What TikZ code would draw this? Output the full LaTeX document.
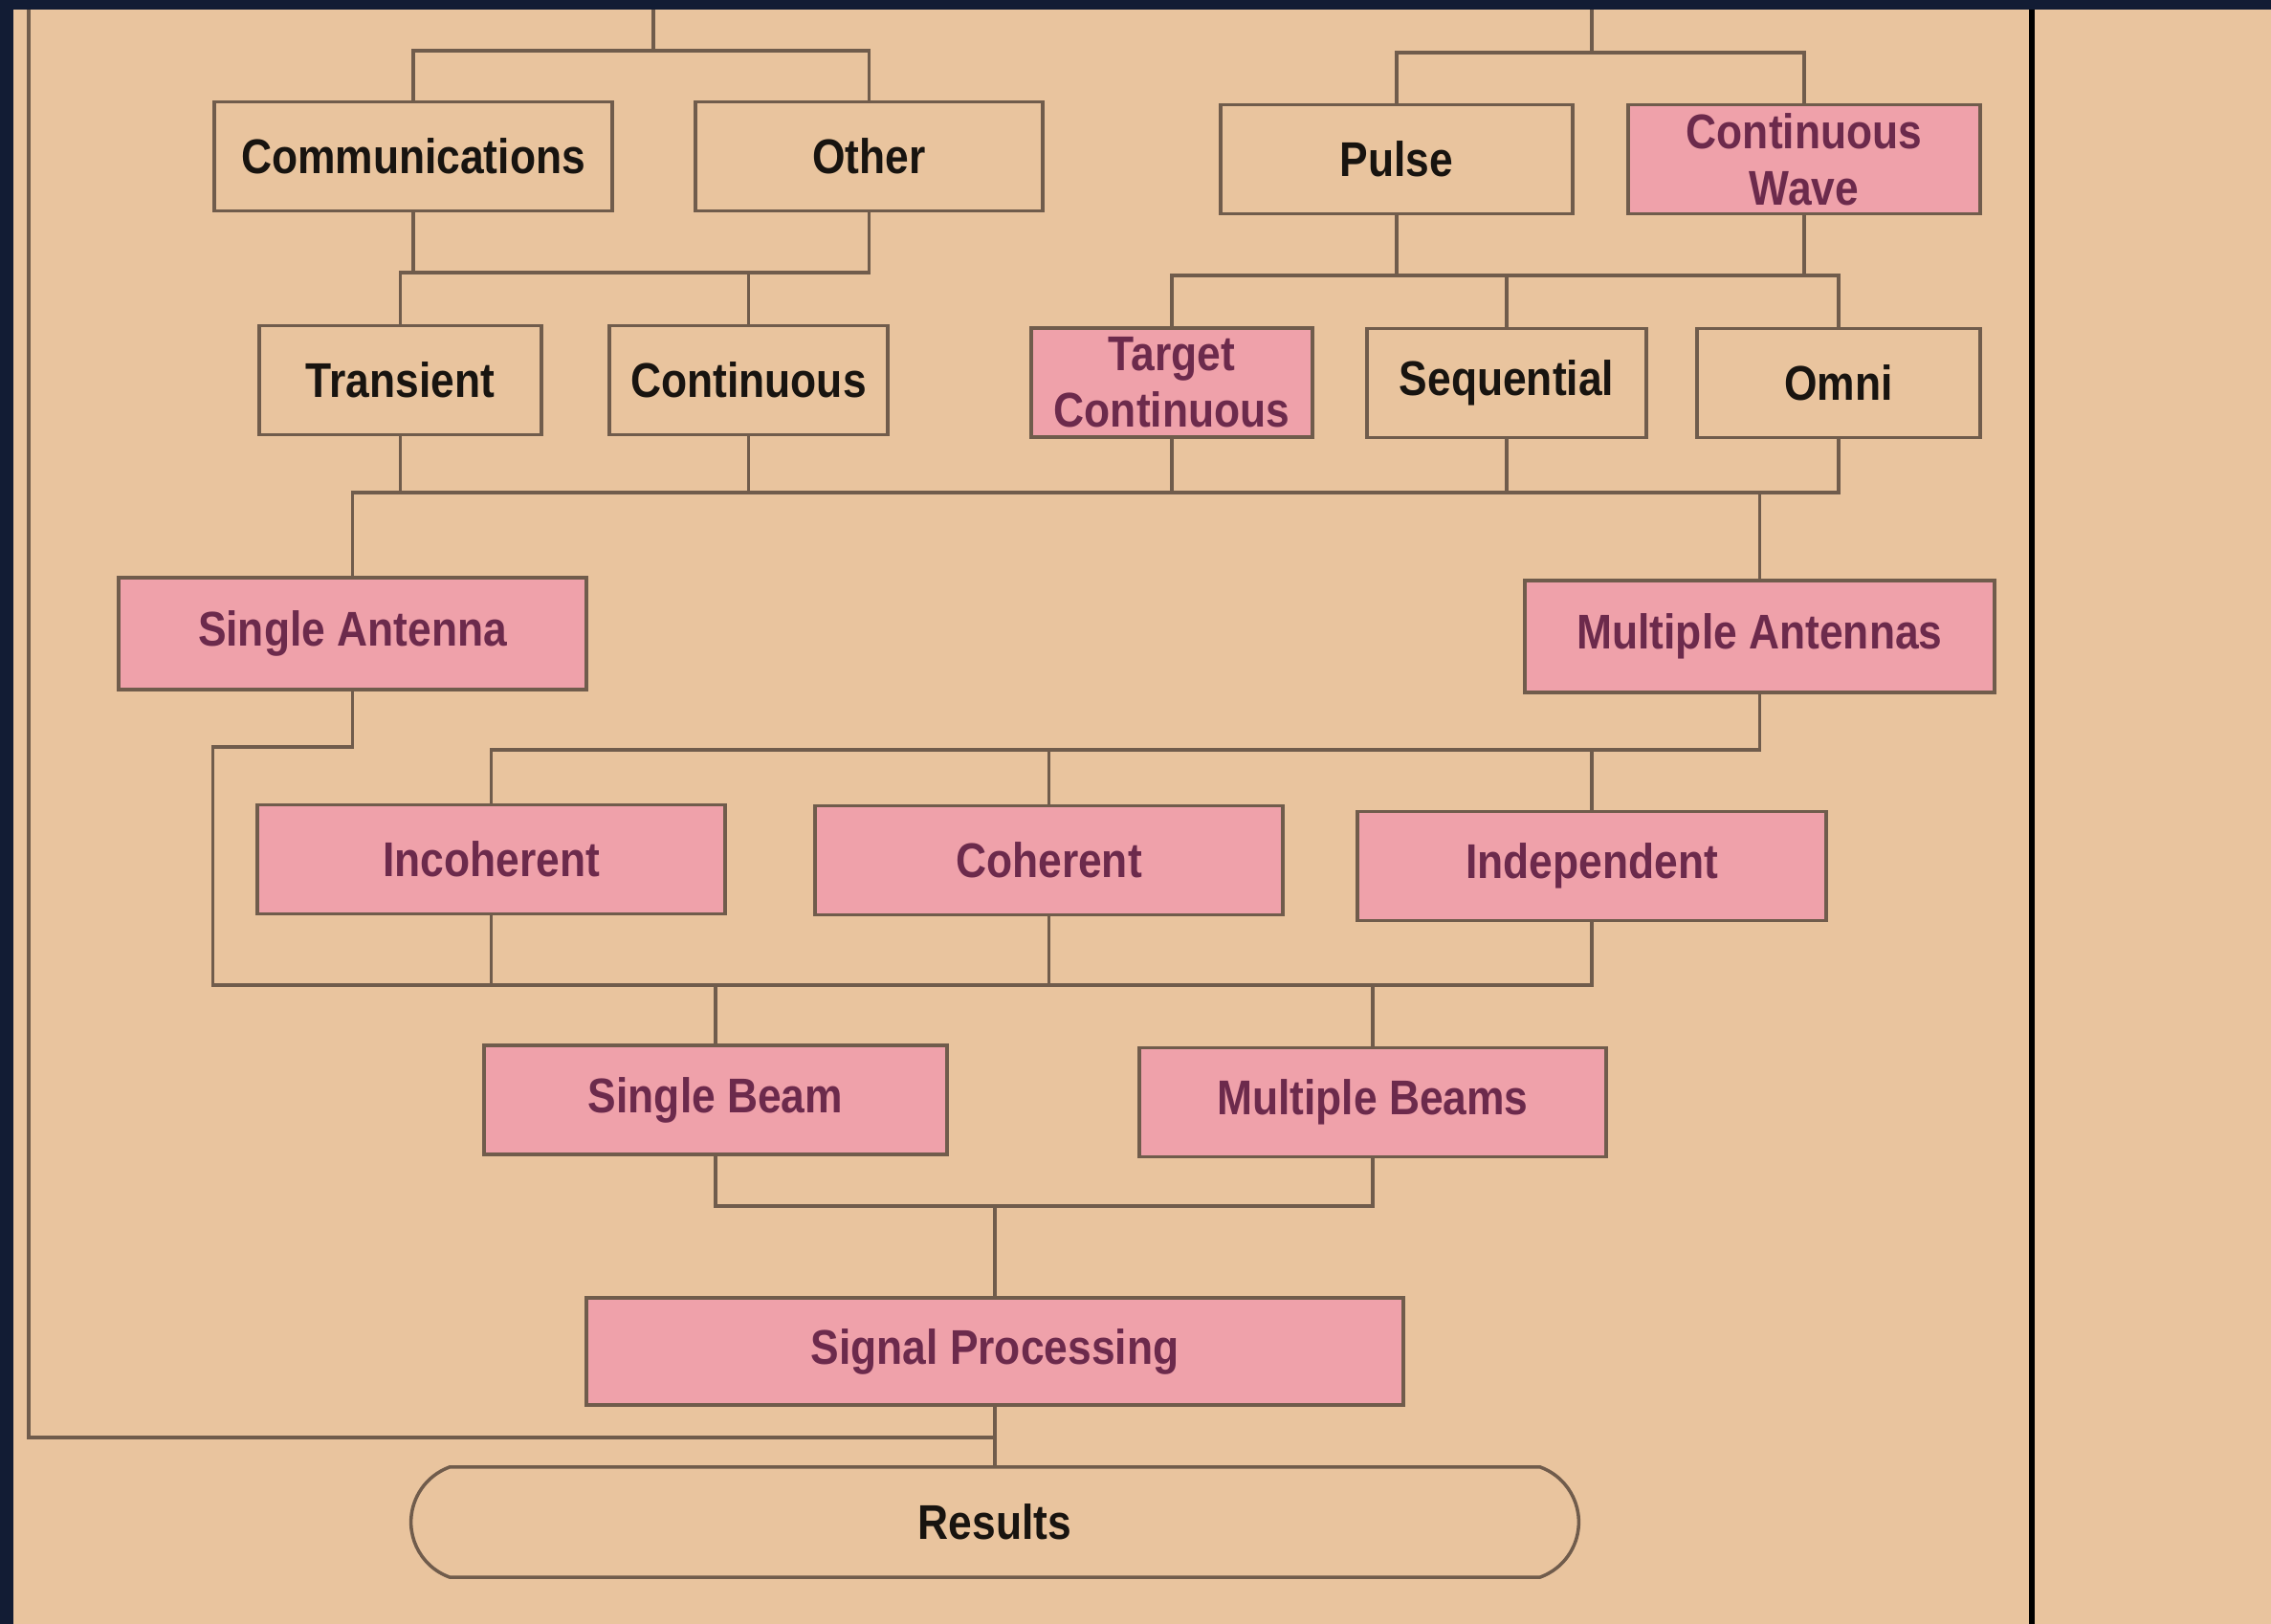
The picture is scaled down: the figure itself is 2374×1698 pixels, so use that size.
\documentclass[tikz,border=0pt]{standalone}
\usepackage{fontspec}
\usetikzlibrary{shapes.misc}
\newfontfamily\chartfont{Liberation Sans}[FakeStretch=0.87]
\definecolor{navy}{RGB}{18,28,52}
\definecolor{peach}{RGB}{233,196,158}
\definecolor{pinkfill}{RGB}{239,161,170}
\definecolor{boxline}{RGB}{112,92,76}
\definecolor{darktext}{RGB}{24,20,16}
\definecolor{pinktext}{RGB}{108,42,76}
\tikzset{
  plain/.style={draw=boxline, line width=1pt, fill=peach, minimum height=1.14cm,
    inner sep=0pt, align=center, text=darktext,
    font=\chartfont\bfseries\fontsize{14.5}{16.8}\selectfont},
  hot/.style={plain, fill=pinkfill, text=pinktext},
  bus/.style={draw=boxline, line width=0.9pt},
}
\begin{document}
\begin{tikzpicture}[x=0.01cm,y=-0.01cm]
  \useasboundingbox (0,0) rectangle (2374,1698);
  \fill[navy] (0,0) rectangle (2374,1698);
  \fill[peach] (14,10) rectangle (2374,1698);
  \draw[black, line width=1.8pt] (2124,10) -- (2124,1698);

  % 'top row'
  \node[plain, minimum width=4.16cm] at (432,163.5) (comm) {Communications};
  \node[plain, minimum width=3.63cm] at (908.5,163.5) (other) {Other};
  \node[plain, minimum width=3.68cm] at (1460,166.5) (pulse) {Pulse};
  \node[hot, minimum width=3.68cm] at (1886,166.5) (cw) {Continuous\\Wave};

  % 'second row'
  \node[plain, minimum width=2.95cm] at (418.5,397.5) (trans) {Transient};
  \node[plain, minimum width=2.91cm] at (782.5,397.5) (cont) {Continuous};
  \node[hot, minimum width=2.94cm] at (1225,400) (target) {Target\\Continuous};
  \node[plain, minimum width=2.92cm] at (1575,400.5) (seq) {Sequential};
  \node[plain, minimum width=2.96cm] at (1922,400.5) (omni) {Omni};

  % 'antennas'
  \node[hot, minimum width=4.89cm, minimum height=1.17cm] at (368.5,662.5) (sa) {Single Antenna};
  \node[hot, minimum width=4.91cm, minimum height=1.17cm] at (1839.5,665.5) (ma) {Multiple Antennas};

  % 'combining'
  \node[hot, minimum width=4.89cm] at (513.5,898.5) (incoh) {Incoherent};
  \node[hot, minimum width=4.89cm] at (1096.5,899.5) (coh) {Coherent};
  \node[hot, minimum width=4.90cm] at (1664,905.5) (indep) {Independent};

  % 'beams'
  \node[hot, minimum width=4.84cm] at (748,1150) (sb) {Single Beam};
  \node[hot, minimum width=4.88cm] at (1435,1152.5) (mb) {Multiple Beams};

  % 'processing'
  \node[hot, minimum width=8.54cm, minimum height=1.12cm] at (1040,1413) (sp) {Signal Processing};
  \node[plain, rounded rectangle, rounded rectangle arc length=140,
    minimum width=12.2cm, minimum height=1.15cm] at (1040,1591.5) (res) {Results};

  % bus levels
  \coordinate (topL) at (683,10);
  \coordinate (topR) at (1664,10);
  \coordinate (b1l) at (683,53);
  \coordinate (b1r) at (1664,55);
  \coordinate (b2l) at (0,285);
  \coordinate (b2r) at (0,288);
  \coordinate (b3) at (0,515);
  \coordinate (bend) at (222.5,781);
  \coordinate (b4) at (0,784);
  \coordinate (b5) at (0,1030);
  \coordinate (b6) at (0,1261);
  \coordinate (frameA) at (30,10);
  \coordinate (frameB) at (30,1503);

  % 'top'
  \draw[bus] (topL) -- (b1l);
  \draw[bus] (comm.north) |- (b1l) -| (other.north);
  \draw[bus] (topR) -- (b1r);
  \draw[bus] (pulse.north) |- (b1r) -| (cw.north);

  % 'first to second'
  \draw[bus] (comm.south) -- (comm.south |- b2l);
  \draw[bus] (trans.north) -- (trans.north |- b2l) -- (other.south |- b2l) -- (other.south);
  \draw[bus] (cont.north) -- (cont.north |- b2l);
  \draw[bus] (pulse.south) -- (pulse.south |- b2r);
  \draw[bus] (cw.south) -- (cw.south |- b2r);
  \draw[bus] (target.north) -- (target.north |- b2r) -- (omni.north |- b2r) -- (omni.north);
  \draw[bus] (seq.north) -- (seq.north |- b2r);

  % 'second to antennas'
  \draw[bus] (sa.north) -- (sa.north |- b3) -- (omni.south |- b3) -- (omni.south);
  \draw[bus] (trans.south) -- (trans.south |- b3);
  \draw[bus] (cont.south) -- (cont.south |- b3);
  \draw[bus] (target.south) -- (target.south |- b3);
  \draw[bus] (seq.south) -- (seq.south |- b3);
  \draw[bus] (ma.north) -- (ma.north |- b3);

  % 'antennas to combining'
  \draw[bus] (sa.south) |- (bend) -- (bend |- b5) -- (indep.south |- b5) -- (indep.south);
  \draw[bus] (incoh.north) -- (incoh.north |- b4) -- (ma.south |- b4) -- (ma.south);
  \draw[bus] (coh.north) -- (coh.north |- b4);
  \draw[bus] (indep.north) -- (indep.north |- b4);
  \draw[bus] (incoh.south) -- (incoh.south |- b5);
  \draw[bus] (coh.south) -- (coh.south |- b5);

  % 'beams'
  \draw[bus] (sb.north) -- (sb.north |- b5);
  \draw[bus] (mb.north) -- (mb.north |- b5);
  \draw[bus] (sb.south) -- (sb.south |- b6) -- (mb.south |- b6) -- (mb.south);
  \draw[bus] (sp.north) -- (sp.north |- b6);

  % 'results'
  \draw[bus] (sp.south) -- (res.north);
  \draw[bus] (frameA) -- (frameB) -- (frameB -| sp.south);
\end{tikzpicture}
\end{document}
